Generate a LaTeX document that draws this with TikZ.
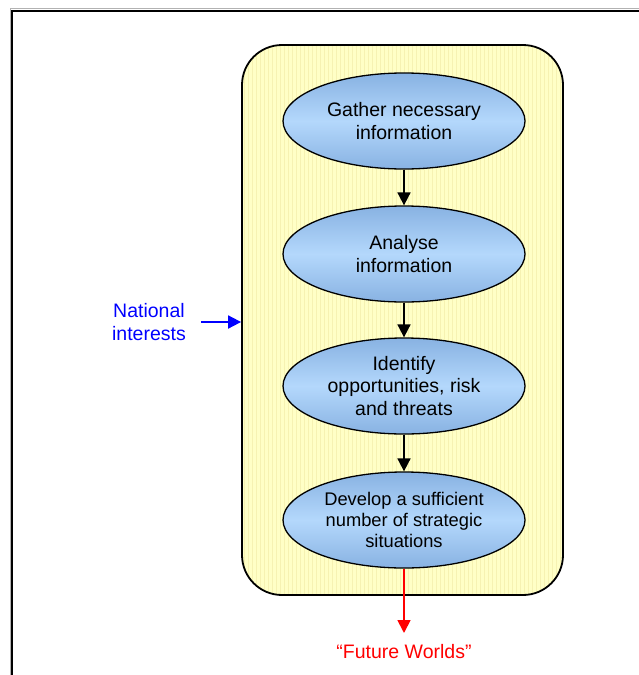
\documentclass[tikz,border=0pt]{standalone}
\usepackage{fontspec}
\setmainfont{Liberation Sans}
\usetikzlibrary{shapes.geometric,arrows.meta}
\definecolor{panelfill}{RGB}{255,255,198}
\definecolor{panelgrid}{RGB}{246,242,178}
\definecolor{stepedge}{RGB}{136,178,226}
\definecolor{stepmid}{RGB}{180,216,252}
\tikzset{
  stepnode/.style={ellipse, draw=black, line width=1.3pt,
    top color=stepedge, bottom color=stepedge, middle color=stepmid,
    minimum width=242pt, minimum height=96pt, inner sep=0pt,
    align=center, font=\fontsize{19.5}{22.5}\selectfont},
  flow/.style={line width=1.8pt, -{Triangle[length=13pt,width=13pt]}},
  label/.style={align=center, font=\fontsize{19.5}{22.5}\selectfont}
}
\begin{document}
\begin{tikzpicture}[x=1pt,y=-1pt]
\useasboundingbox (0,0) rectangle (638,675);
% outer frame (partly cut off at the page edge)
\draw[gray!60, line width=1pt] (10,676) -- (10,8.5) -- (640,8.5);
\draw[line width=2pt] (12,676) -- (12,11) -- (640,11);
% process panel with a fine grid
\begin{scope}
  \clip[rounded corners=40pt] (242,45) rectangle (563,595);
  \fill[panelfill] (242,45) rectangle (563,595);
  \draw[panelgrid, line width=0.3pt, step=4] (240,44) grid (566,598);
\end{scope}
\node[draw, line width=1.8pt, rounded corners=40pt, minimum width=321pt,
  minimum height=550pt, inner sep=0pt] (panel) at (402.5,320) {};
% process steps
\node[stepnode] (s1) at (404,121) {Gather necessary\\information};
\node[stepnode] (s2) at (404,254) {Analyse\\information};
\node[stepnode] (s3) at (404,386) {Identify\\opportunities, risk\\and threats};
\node[stepnode, font=\fontsize{18.3}{20.7}\selectfont] (s4) at (404,520)
  {Develop a sufficient\\number of strategic\\situations};
\draw[flow] (s1) -- (s2);
\draw[flow] (s2) -- (s3);
\draw[flow] (s3) -- (s4);
% input
\node[label, text=blue] (ni) at (149,322) {National\\interests};
\coordinate (nistart) at (201,322);
\draw[flow, blue] (nistart) -- (panel.west |- nistart);
% output
\coordinate (fwend) at (404,633);
\draw[flow, red] (s4.south) -- (fwend);
\node[label, text=red] (fw) at (404,652) {“Future Worlds”};
\end{tikzpicture}
\end{document}
